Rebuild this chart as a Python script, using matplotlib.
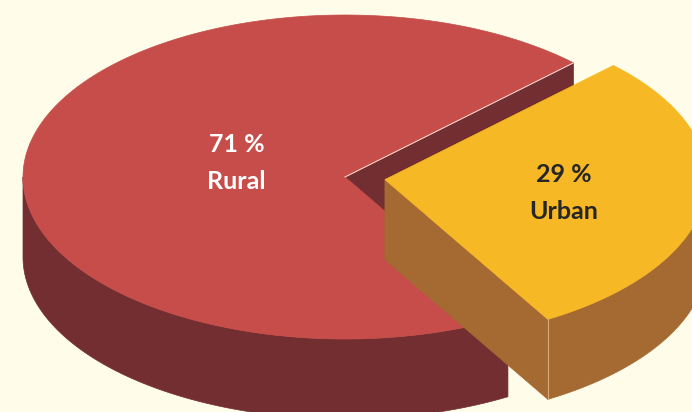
import numpy as np
import matplotlib.pyplot as plt
from matplotlib.patches import Polygon

# data
labels = ['Rural', 'Urban']
shares = [71, 29]
top_colors = ['#C64D4A', '#F7B825']
side_colors = ['#722E31', '#A56A32']
text_colors = ['white', '#262626']

# layout (pixels of the 692x412 canvas)
background = '#FFFDE9'
cx, cy = 345, 177
rx, ry = 322, 162
depth = 80
explode = [0, 0.125]
start_angle = 44.8  # Rural begins here, going counter-clockwise
label_r = [0.34, 0.56]
label_lift = [8, 0]
line_gap = 18.5

fig = plt.figure(figsize=(6.92, 4.12), dpi=100)
fig.patch.set_facecolor(background)
ax = fig.add_axes([0, 0, 1, 1])
ax.set_xlim(0, 692)
ax.set_ylim(412, 0)
ax.axis('off')


def rim(t, dx, dy, z=0):
    return cx + dx + rx * np.cos(t), cy + dy - ry * np.sin(t) + z


def arc(t0, t1, dx, dy, z=0, n=200):
    ts = np.linspace(t0, t1, n)
    xs, ys = rim(ts, dx, dy, z)
    return np.column_stack([xs, ys])


def front_parts(t0, t1):
    # parts of [t0, t1] (degrees) that face the viewer (180..360 mod 360)
    parts = []
    for lo, hi in [(180, 360), (540, 720), (-180, 0)]:
        a, b = max(t0, lo), min(t1, hi)
        if a < b:
            parts.append((a, b))
    return parts


angle = start_angle
for share, top_c, side_c, e in zip(shares, top_colors, side_colors, explode):
    t0 = angle
    t1 = angle + share * 3.6
    angle = t1
    mid = np.radians((t0 + t1) / 2)
    dx = e * rx * np.cos(mid)
    dy = -e * ry * np.sin(mid)
    a0, a1 = np.radians(t0), np.radians(t1)
    apex = (cx + dx, cy + dy)

    # radial faces that look toward the viewer
    for t, visible in [(a0, np.cos(a0) > 0), (a1, np.cos(a1) < 0)]:
        if visible:
            px, py = rim(t, dx, dy)
            face = [apex, (px, py), (px, py + depth), (apex[0], apex[1] + depth)]
            ax.add_patch(Polygon(face, closed=True, facecolor=side_c, edgecolor=side_c, lw=0.5))

    # outer wall
    for p0, p1 in front_parts(t0, t1):
        upper = arc(np.radians(p0), np.radians(p1), dx, dy)
        lower = arc(np.radians(p1), np.radians(p0), dx, dy, depth)
        ax.add_patch(Polygon(np.vstack([upper, lower]), closed=True,
                             facecolor=side_c, edgecolor=side_c, lw=0.5))

    # top face
    top = np.vstack([[apex], arc(a0, a1, dx, dy)])
    ax.add_patch(Polygon(top, closed=True, facecolor=top_c, edgecolor=top_c, lw=0.5))

    # thin highlights on visible edges
    if np.cos(a0) > 0 and e == 0:
        px, py = rim(a0, dx, dy)
        ax.plot([apex[0], px], [apex[1], py], color='#F3D2C8', lw=0.8)
    if e > 0:
        px, py = rim(a0, dx, dy)
        ax.plot([px, px], [py, py + depth], color='#D7A878', lw=0.8)

# labels
angle = start_angle
for i, (label, share) in enumerate(zip(labels, shares)):
    t0 = angle
    t1 = angle + share * 3.6
    angle = t1
    mid = np.radians((t0 + t1) / 2)
    dx = explode[i] * rx * np.cos(mid)
    dy = -explode[i] * ry * np.sin(mid)
    lx = cx + dx + label_r[i] * rx * np.cos(mid)
    ly = cy + dy - label_r[i] * ry * np.sin(mid) - label_lift[i]
    style = dict(ha='center', va='baseline', fontsize=18, fontweight='bold',
                 family=['Lato', 'DejaVu Sans'], color=text_colors[i])
    ax.text(lx, ly - line_gap + 9, f'{share} %', **style)
    ax.text(lx, ly + line_gap + 9, label, **style)

fig.savefig('out.png', dpi=100, facecolor=background)
